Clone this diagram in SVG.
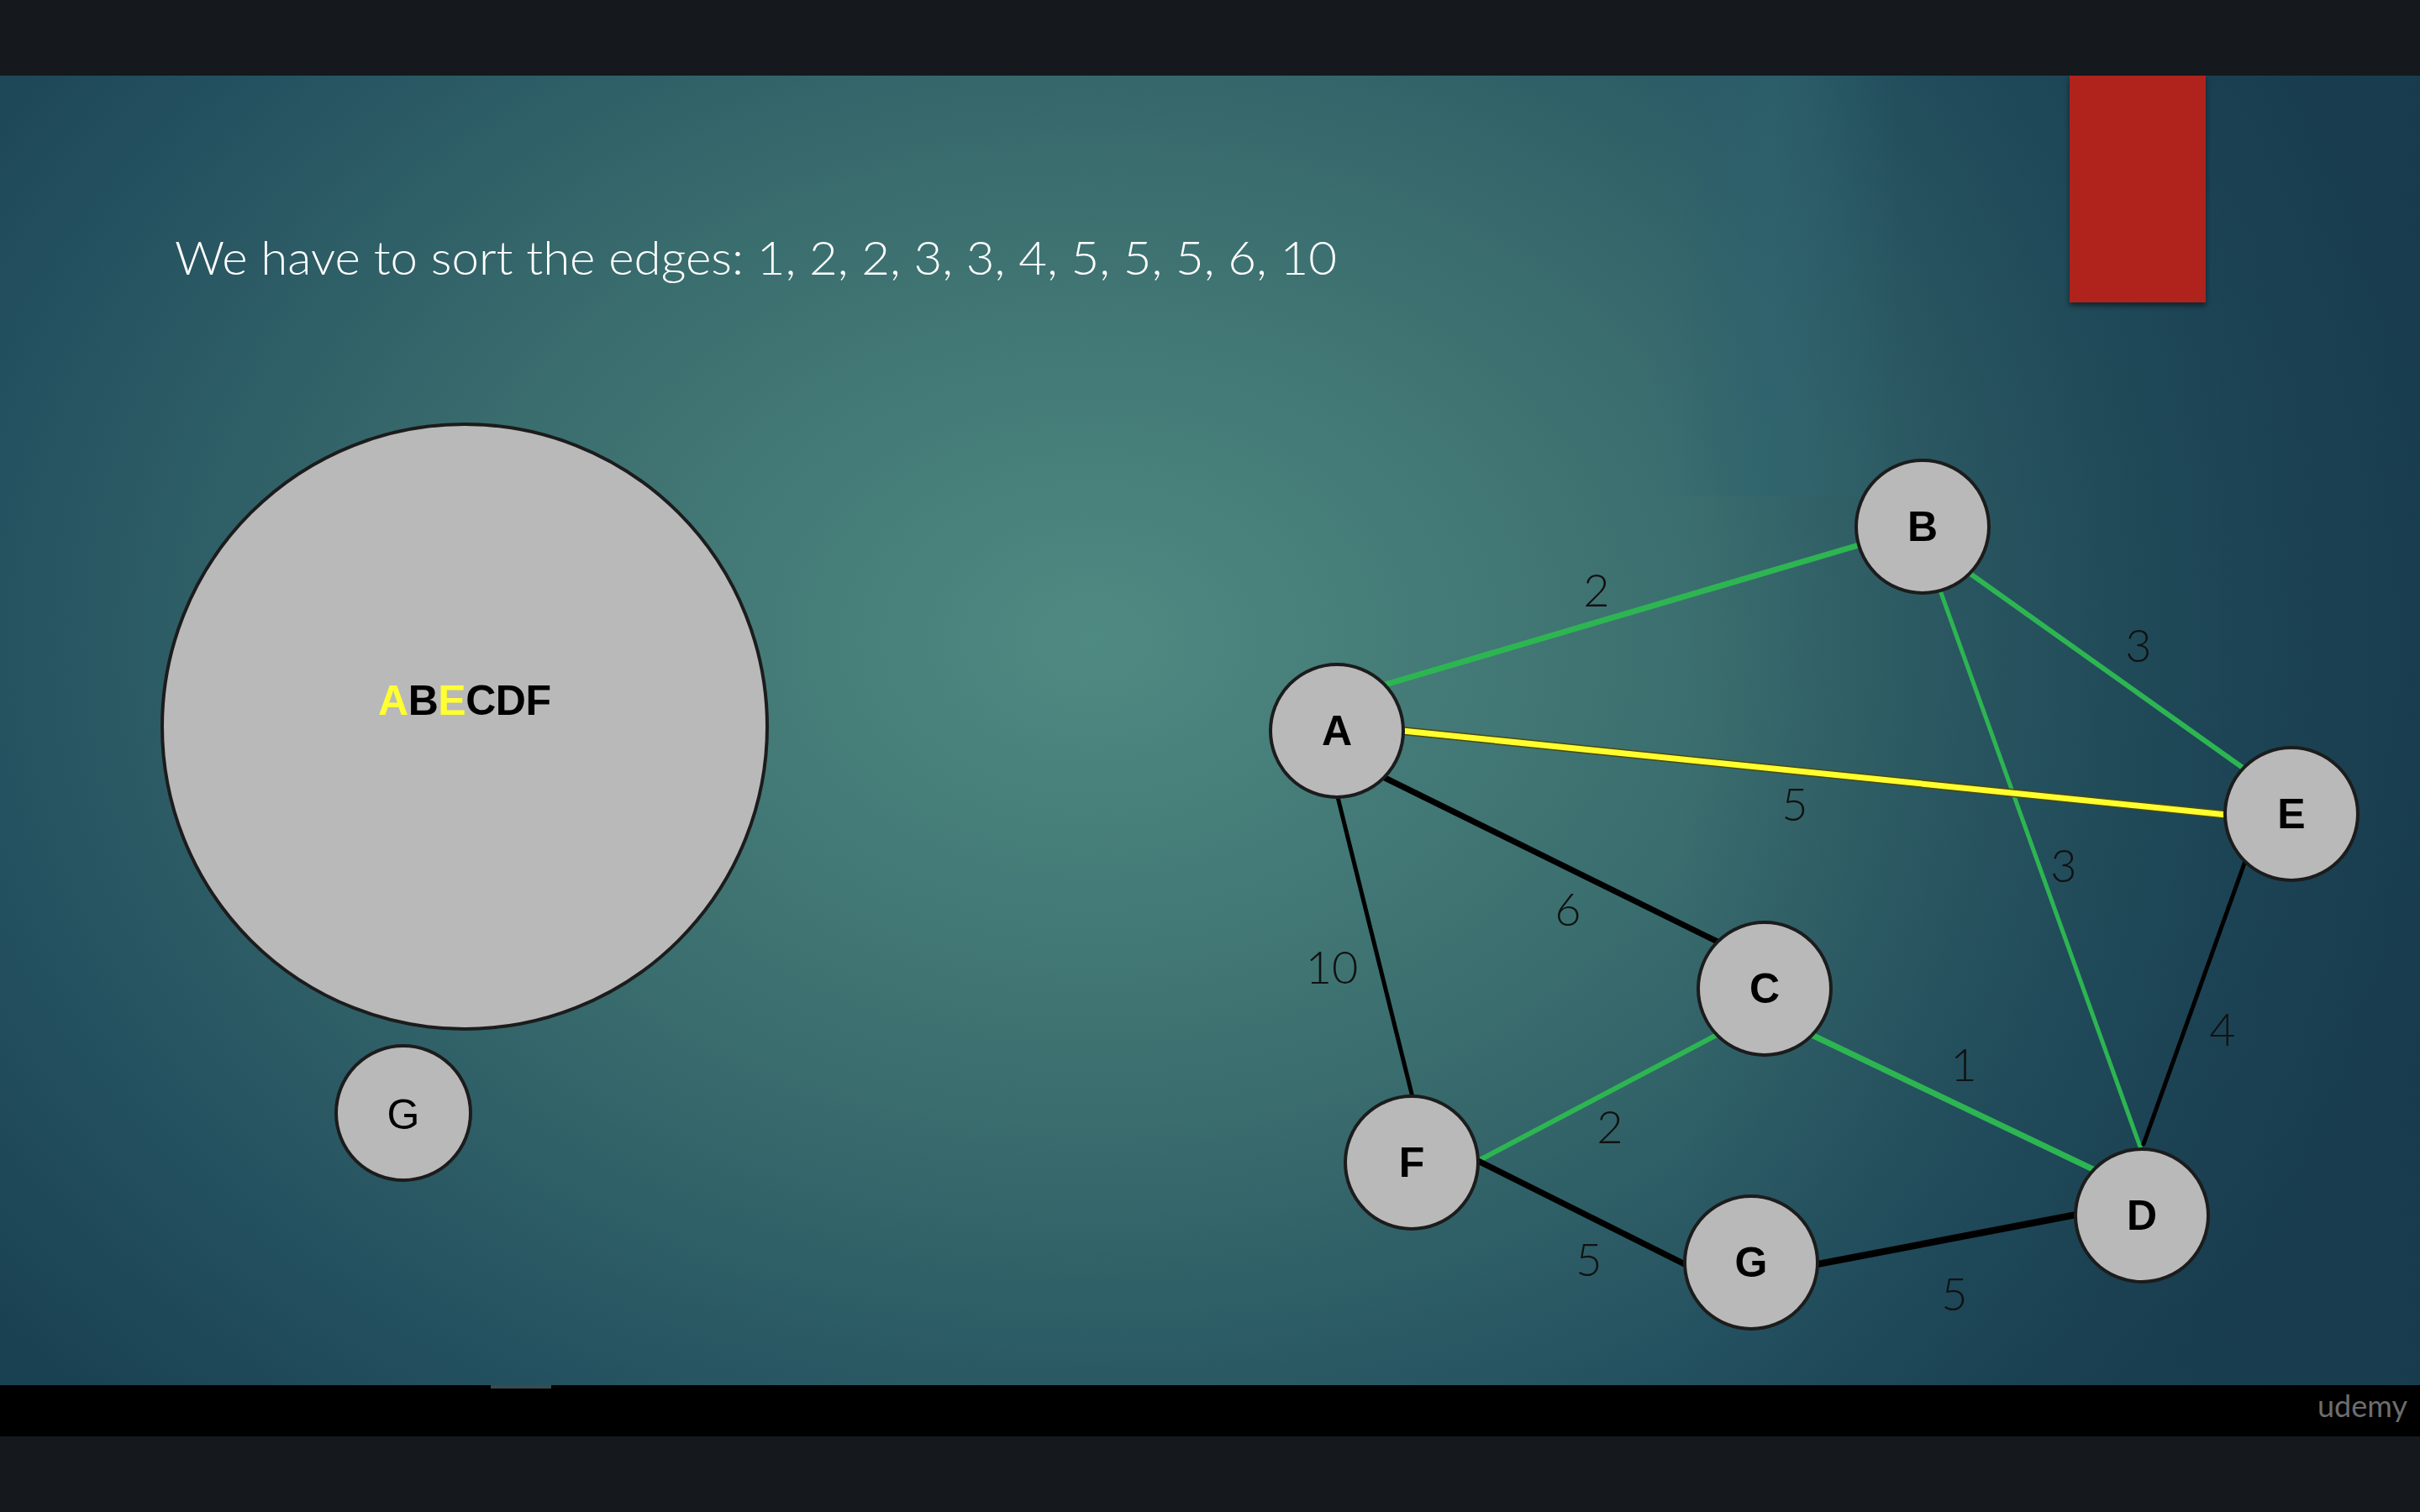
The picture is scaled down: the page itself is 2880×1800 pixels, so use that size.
<svg xmlns="http://www.w3.org/2000/svg" width="2880" height="1800" viewBox="0 0 2880 1800">
<defs>
<radialGradient id="bg" cx="1300" cy="760" r="1700" gradientUnits="userSpaceOnUse" gradientTransform="translate(1300 760) scale(1 0.75) translate(-1300 -760)">
<stop offset="0" stop-color="#4f8a82"/>
<stop offset="0.45" stop-color="#3a6d6e"/>
<stop offset="0.8" stop-color="#23505f"/>
<stop offset="1" stop-color="#1a4152"/>
</radialGradient>
<linearGradient id="rightshade" x1="0" y1="0" x2="1" y2="0">
<stop offset="0" stop-color="#173a4c" stop-opacity="0"/>
<stop offset="1" stop-color="#173a4c" stop-opacity="0.7"/>
</linearGradient>
<linearGradient id="band" x1="0" y1="0" x2="1" y2="0">
<stop offset="0" stop-color="#2e6470" stop-opacity="0"/>
<stop offset="0.5" stop-color="#2e6470" stop-opacity="0.6"/>
<stop offset="1" stop-color="#2e6470" stop-opacity="0"/>
</linearGradient>
<filter id="sh" x="-10%" y="-10%" width="130%" height="130%">
<feDropShadow dx="0" dy="4" stdDeviation="3" flood-color="#000" flood-opacity="0.5"/>
</filter>
</defs>
<style>
.node circle{fill:#b9b9b9;stroke:#1c1c1c;stroke-width:4}
.nl{font-family:"Liberation Sans",Arial,sans-serif;font-weight:bold;font-size:50px;fill:#000;text-anchor:middle;dominant-baseline:central}
.w{font-family:Lato,"Liberation Sans",sans-serif;font-weight:300;font-size:54px;fill:#111;text-anchor:middle;dominant-baseline:central}
.g{stroke:#2db552;stroke-linecap:round}
.k{stroke:#000;stroke-linecap:round}
</style>
<rect width="2880" height="1800" fill="#15181d"/>
<rect x="0" y="90" width="2880" height="1560" fill="url(#bg)"/>
<rect x="2000" y="90" width="880" height="1560" fill="url(#rightshade)"/>
<rect x="1960" y="90" width="300" height="500" fill="url(#band)"/>
<rect x="0" y="1649" width="2880" height="61" fill="#000"/>
<rect x="584" y="1649" width="72" height="4" fill="#3a4a50"/>
<text x="2865" y="1687" font-family="Lato,'Liberation Sans',sans-serif" font-size="36" fill="#6d6d6d" text-anchor="end">udemy</text>

<rect x="2463" y="90" width="162" height="270" fill="#b0231d" filter="url(#sh)"/>

<text x="208" y="327" font-family="Lato,'Liberation Sans',sans-serif" font-weight="300" font-size="56" fill="#ffffff" textLength="1383" lengthAdjust="spacingAndGlyphs">We have to sort the edges: 1, 2, 2, 3, 3, 4, 5, 5, 5, 6, 10</text>

<g id="set-ABECDF" class="node">
<circle cx="553" cy="865" r="360"/>
<text x="553" y="851" font-family="'Liberation Sans',Arial,sans-serif" font-weight="bold" font-size="50" text-anchor="middle" textLength="206" lengthAdjust="spacing"><tspan fill="#ffff33">A</tspan><tspan fill="#000">B</tspan><tspan fill="#ffff33">E</tspan><tspan fill="#000">CDF</tspan></text>
</g>
<g id="set-G" class="node">
<circle cx="480" cy="1325" r="80"/>
<text x="480" y="1344" font-family="'Liberation Sans',Arial,sans-serif" font-size="50" text-anchor="middle" fill="#000">G</text>
</g>

<g id="edges">
<line class="g" x1="1645" y1="816" x2="2212" y2="649" stroke-width="7"/>
<line class="g" x1="2342" y1="681" x2="2672" y2="916" stroke-width="6"/>
<line class="g" x1="2309" y1="703" x2="2549" y2="1371" stroke-width="5"/>
<line x1="1669" y1="870" x2="2650" y2="970" stroke="#4a4a10" stroke-width="10"/>
<line x1="1669" y1="870" x2="2650" y2="970" stroke="#ffff2e" stroke-width="7"/>
<line class="k" x1="1648" y1="926" x2="2044" y2="1121" stroke-width="7"/>
<line class="k" x1="1592" y1="949" x2="1681" y2="1306" stroke-width="5"/>
<line class="k" x1="2672" y1="1025" x2="2551" y2="1362" stroke-width="5"/>
<line class="g" x1="1759" y1="1382" x2="2045" y2="1231" stroke-width="6"/>
<line class="g" x1="2156" y1="1232" x2="2493" y2="1393" stroke-width="7"/>
<line class="k" x1="1759" y1="1382" x2="2005" y2="1505" stroke-width="7"/>
<line class="k" x1="2163" y1="1505" x2="2471" y2="1446" stroke-width="8"/>
<text class="w" x="1900" y="701">2</text>
<text class="w" x="2545" y="767">3</text>
<text class="w" x="2136" y="956">5</text>
<text class="w" x="2456" y="1029">3</text>
<text class="w" x="1866" y="1081">6</text>
<text class="w" x="1585" y="1150">10</text>
<text class="w" x="2645" y="1224">4</text>
<text class="w" x="2337" y="1266">1</text>
<text class="w" x="1916" y="1340">2</text>
<text class="w" x="1891" y="1498">5</text>
<text class="w" x="2326" y="1539">5</text>
</g>

<g id="node-A" class="node"><circle cx="1591" cy="870" r="79"/><text class="nl" x="1591" y="870">A</text></g>
<g id="node-B" class="node"><circle cx="2288" cy="627" r="79"/><text class="nl" x="2288" y="627">B</text></g>
<g id="node-E" class="node"><circle cx="2727" cy="969" r="79"/><text class="nl" x="2727" y="969">E</text></g>
<g id="node-C" class="node"><circle cx="2100" cy="1177" r="79"/><text class="nl" x="2100" y="1177">C</text></g>
<g id="node-F" class="node"><circle cx="1680" cy="1384" r="79"/><text class="nl" x="1680" y="1384">F</text></g>
<g id="node-G" class="node"><circle cx="2084" cy="1503" r="79"/><text class="nl" x="2084" y="1503">G</text></g>
<g id="node-D" class="node"><circle cx="2549" cy="1447" r="79"/><text class="nl" x="2549" y="1447">D</text></g>
</svg>
